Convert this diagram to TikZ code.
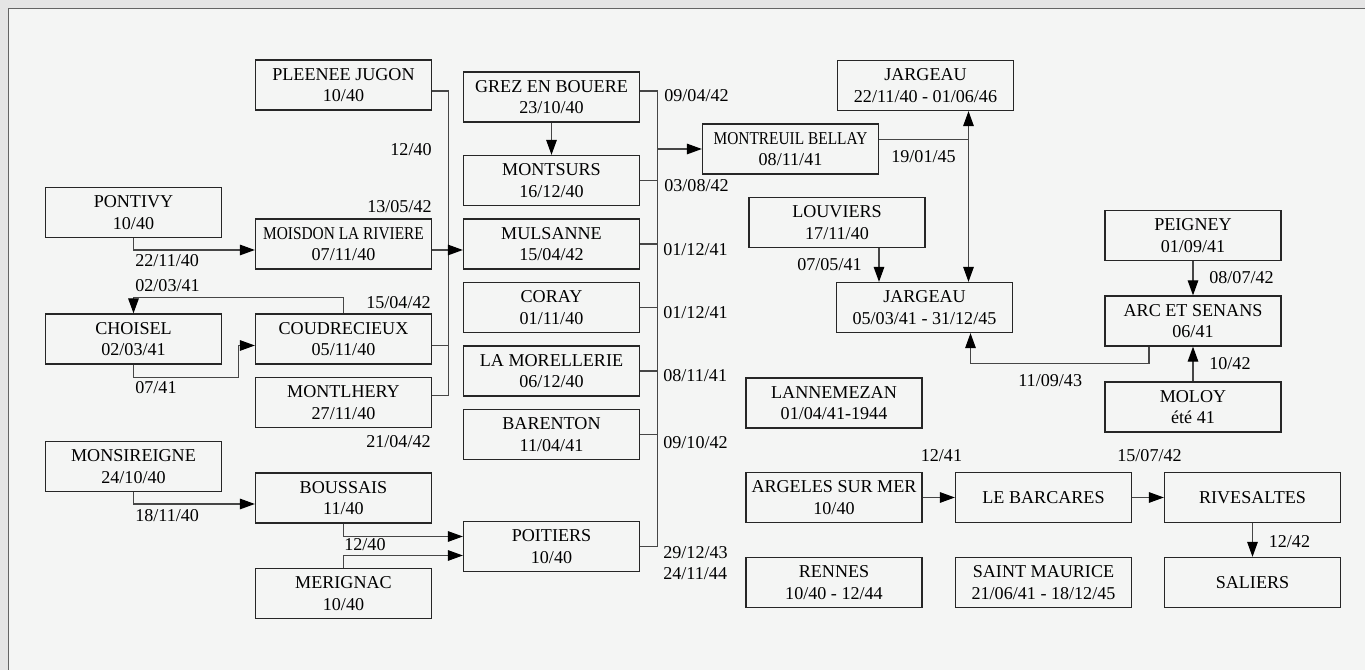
\documentclass[tikz,border=0pt]{standalone}
\usepackage{graphicx}
\usepackage{fontspec}
\setmainfont{Liberation Serif}
\usepackage{tikz}
\usetikzlibrary{calc}
\usetikzlibrary{positioning}
\usetikzlibrary{arrows.meta}
\definecolor{bandgray}{RGB}{229,229,229}
\definecolor{pagebg}{RGB}{244,245,244}
\definecolor{framegray}{RGB}{100,100,100}
\definecolor{linegray}{RGB}{70,70,70}
\tikzstyle{camp} = [draw=black!85, line width=0.75pt, rectangle, align=center,
    minimum height=1cm, minimum width=3.52cm, inner sep=0pt]
\tikzstyle{date} = [inner sep=0pt]
\tikzstyle{link} = [draw=linegray, line width=0.65pt]
\newcommand{\squeeze}[1]{\scalebox{0.85}[1]{#1}}

\begin{document}
\begin{tikzpicture}[>={Triangle[length=8.5pt,width=6pt,color=black]},
    font=\fontsize{10.3}{12.3}\selectfont]

    \useasboundingbox (0,0) rectangle (27.3,13.4);
    \fill[bandgray] (0,0) rectangle (27.3,13.4);
    \fill[pagebg] (0.17,0) rectangle (27.3,13.23);
    \draw[framegray, line width=1.1pt] (0.17,0) -- (0.17,13.23) -- (27.3,13.23);

    \node[camp] at (2.67,9.15) (pontivy) {PONTIVY\\10/40};
    \node[camp] at (2.67,6.62) (choisel) {CHOISEL\\02/03/41};
    \node[camp] at (2.67,4.07) (monsireigne) {MONSIREIGNE\\24/10/40};

    \node[camp] at (6.87,11.70) (pleenee) {PLEENEE JUGON\\10/40};
    \node[camp] at (6.87,8.52) (moisdon) {\squeeze{MOISDON LA RIVIERE}\\07/11/40};
    \node[camp] at (6.87,6.62) (coudrecieux) {COUDRECIEUX\\05/11/40};
    \node[camp] at (6.87,5.35) (montlhery) {MONTLHERY\\27/11/40};
    \node[camp] at (6.87,3.44) (boussais) {BOUSSAIS\\11/40};
    \node[camp] at (6.87,1.53) (merignac) {MERIGNAC\\10/40};

    \node[camp] at (11.03,11.46) (grez) {GREZ EN BOUERE\\23/10/40};
    \node[camp] at (11.03,9.79) (montsurs) {MONTSURS\\16/12/40};
    \node[camp] at (11.03,8.52) (mulsanne) {MULSANNE\\15/04/42};
    \node[camp] at (11.03,7.25) (coray) {CORAY\\01/11/40};
    \node[camp] at (11.03,5.98) (morellerie) {LA MORELLERIE\\06/12/40};
    \node[camp] at (11.03,4.71) (barenton) {BARENTON\\11/04/41};
    \node[camp] at (11.03,2.47) (poitiers) {POITIERS\\10/40};

    \node[camp] at (15.81,10.42) (montreuil) {\squeeze{MONTREUIL BELLAY}\\08/11/41};
    \node[camp] at (18.51,11.69) (jargeauA) {JARGEAU\\22/11/40 - 01/06/46};
    \node[camp] at (16.74,8.95) (louviers) {LOUVIERS\\17/11/40};
    \node[camp] at (18.49,7.25) (jargeauB) {JARGEAU\\05/03/41 - 31/12/45};
    \node[camp] at (16.68,5.34) (lannemezan) {LANNEMEZAN\\01/04/41-1944};

    \node[camp] at (23.86,8.69) (peigney) {PEIGNEY\\01/09/41};
    \node[camp] at (23.86,6.98) (arc) {ARC ET SENANS\\06/41};
    \node[camp] at (23.86,5.26) (moloy) {MOLOY\\été 41};

    \node[camp] at (16.68,3.45) (argeles) {ARGELES SUR MER\\10/40};
    \node[camp] at (20.87,3.45) (barcares) {LE BARCARES};
    \node[camp] at (25.05,3.45) (rivesaltes) {RIVESALTES};
    \node[camp] at (16.68,1.75) (rennes) {RENNES\\10/40 - 12/44};
    \node[camp] at (20.87,1.75) (stmaurice) {SAINT MAURICE\\21/06/41 - 18/12/45};
    \node[camp] at (25.05,1.75) (saliers) {SALIERS};

    \draw[link,->] (pontivy.south) |- ($(moisdon.west)+(0,-0.12)$);
    \draw[link,->] (coudrecieux.north) -- ++(0,0.31) -| (choisel.north);
    \draw[link,->] (choisel.south) -- ++(0,-0.25) -| ($(coudrecieux.west)+(-0.32,-0.13)$)
        -- ($(coudrecieux.west)+(0,-0.13)$);
    \draw[link,->] (monsireigne.south) |- ($(boussais.west)+(0,-0.12)$);
    \draw[link,->] (boussais.south) |- ($(poitiers.west)+(0,0.2)$);
    \draw[link,->] (merignac.north) |- ($(poitiers.west)+(0,-0.18)$);

    \draw[link] ($(pleenee.east)+(0,-0.12)$) -| ($(montlhery.east)+(0.33,0.14)$)
        -- ($(montlhery.east)+(0,0.14)$);
    \draw[link] ($(coudrecieux.east)+(0,-0.13)$) -- ++(0.33,0);
    \draw[link,->] ($(moisdon.east)+(0,-0.12)$) -- ($(mulsanne.west)+(0,-0.12)$);

    \draw[link,->] (grez) -- (montsurs);
    \coordinate (rbus) at ($(grez.east)+(0.35,0.12)$);
    \draw[link] ($(grez.east)+(0,0.12)$) -- (rbus) -- (rbus |- poitiers.east) -- (poitiers.east);
    \foreach \c in {montsurs,mulsanne,coray,morellerie,barenton}
        \draw[link] (\c.east) -- (rbus |- \c.east);
    \draw[link,->] (rbus |- montreuil.west) -- (montreuil.west);

    \coordinate (jv) at ($(jargeauA.south)+(0.86,0)$);
    \coordinate (mr) at ($(montreuil.east)+(0,0.19)$);
    \draw[link] (mr) -- (mr -| jv);
    \draw[link,<->] (jv) -- (jv |- jargeauB.north);
    \coordinate (lv) at ($(louviers.south)+(0.84,0)$);
    \draw[link,->] (lv) -- (lv |- jargeauB.north);
    \draw[link,->] ($(arc.south)+(-0.88,0)$) -- ++(0,-0.33) -| ($(jargeauB.south)+(0.92,0)$);
    \draw[link,->] (peigney) -- (arc);
    \draw[link,->] (moloy) -- (arc);

    \draw[link,->] (argeles) -- (barcares);
    \draw[link,->] (barcares) -- (rivesaltes);
    \draw[link,->] (rivesaltes) -- (saliers);

    \node[date, anchor=west] at (2.70,8.18) (dpontivy) {22/11/40};
    \node[date, anchor=east] at (8.64,10.40) (dpleenee) {12/40};
    \node[date, anchor=east] at (8.64,9.27) (dmoisdon) {13/05/42};
    \node[date, anchor=west] at (2.70,7.68) (dchoiselin) {02/03/41};
    \node[date, anchor=east] at (8.62,7.34) (dcoudrecieux) {15/04/42};
    \node[date, anchor=west] at (2.70,5.64) (dchoiselout) {07/41};
    \node[date, anchor=east] at (8.62,4.57) (dmontlhery) {21/04/42};
    \node[date, anchor=west] at (2.70,3.08) (dmonsireigne) {18/11/40};
    \node[date, anchor=west] at (6.88,2.50) (dmerignac) {12/40};

    \node[date, anchor=west] at (13.28,11.48) (dgrez) {09/04/42};
    \node[date, anchor=west] at (13.28,9.69) (dmontsurs) {03/08/42};
    \node[date, anchor=west] at (13.26,8.40) (dmulsanne) {01/12/41};
    \node[date, anchor=west] at (13.26,7.14) (dcoray) {01/12/41};
    \node[date, anchor=west] at (13.26,5.89) (dmorellerie) {08/11/41};
    \node[date, anchor=west] at (13.26,4.55) (dbarenton) {09/10/42};
    \node[date, anchor=west, align=left] at (13.26,2.14) (dpoitiers) {29/12/43\\24/11/44};

    \node[date, anchor=west] at (17.82,10.27) (dmontreuil) {19/01/45};
    \node[date, anchor=east] at (17.24,8.10) (dlouviers) {07/05/41};
    \node[date, anchor=west] at (24.18,7.84) (dpeigney) {08/07/42};
    \node[date, anchor=west] at (20.36,5.79) (darc) {11/09/43};
    \node[date, anchor=west] at (24.18,6.12) (dmoloy) {10/42};
    \node[date, anchor=west] at (18.41,4.28) (dargeles) {12/41};
    \node[date, anchor=west] at (22.34,4.28) (dbarcares) {15/07/42};
    \node[date, anchor=west] at (25.37,2.57) (drivesaltes) {12/42};
\end{tikzpicture}
\end{document}
